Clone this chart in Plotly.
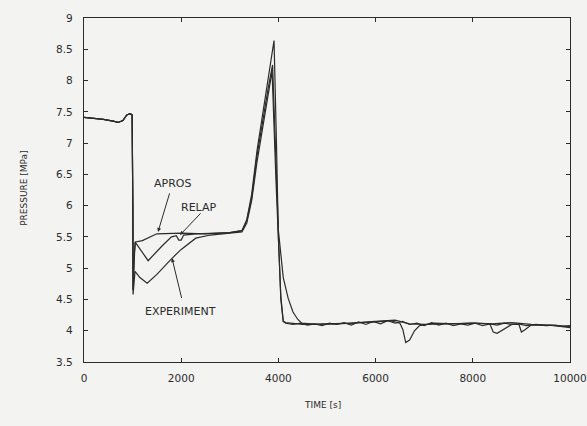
import plotly.graph_objects as go

# Pressure transient: measured data and two code simulations (APROS, RELAP)
# Common pre-transient history (identical for all three records)
t_pre = [0, 200, 400, 600, 700, 800, 880, 950, 990]
p_pre = [7.41, 7.40, 7.38, 7.35, 7.33, 7.36, 7.45, 7.47, 7.45]

t_exp = t_pre + [1005, 1010, 1050, 1150, 1300, 1500, 1800, 2000, 2300, 2600, 3000, 3250,
                 3350, 3450, 3560, 3680, 3790, 3870, 3950, 4000, 4050, 4100, 4150,
                 4300, 4450, 4600, 4750, 4900, 5050, 5200, 5350, 5500, 5650, 5800,
                 5950, 6100, 6250, 6400, 6550, 6700, 6850, 7000, 7150, 7300, 7450,
                 7600, 7750, 7900, 8050, 8200, 8350, 8500, 8650, 8800, 8950, 9100,
                 9300, 9500, 9700, 9850, 10000]
p_exp = p_pre + [6.0, 4.58, 4.95, 4.85, 4.76, 4.90, 5.15, 5.30, 5.48, 5.53, 5.56, 5.58,
                 5.72, 6.08, 6.70, 7.28, 7.78, 8.15, 6.40, 5.40, 4.55, 4.15, 4.12,
                 4.10, 4.12, 4.09, 4.11, 4.08, 4.12, 4.10, 4.13, 4.09, 4.14, 4.10,
                 4.15, 4.11, 4.16, 4.12, 4.15, 4.10, 4.12, 4.08, 4.13, 4.09, 4.12,
                 4.08, 4.11, 4.09, 4.12, 4.08, 4.11, 4.09, 4.12, 4.10, 4.11, 4.08,
                 4.10, 4.08, 4.09, 4.07, 4.08]

t_apros = t_pre + [1005, 1010, 1030, 1060, 1200, 1500, 2000, 2500, 3000, 3250,
                   3350, 3450, 3560, 3680, 3790, 3880, 3950, 4000, 4100, 4200, 4300,
                   4400, 4480, 4800, 5200, 5600, 6000, 6300, 6500, 6560, 6620, 6700,
                   6800, 6900, 7200, 7600, 8000, 8400, 8800, 9200, 9600, 10000]
p_apros = p_pre + [6.0, 4.65, 5.20, 5.42, 5.44, 5.55, 5.56, 5.55, 5.57, 5.60,
                   5.76, 6.12, 6.80, 7.38, 7.88, 8.25, 6.60, 5.60, 4.85, 4.52, 4.30,
                   4.18, 4.12, 4.10, 4.11, 4.12, 4.14, 4.16, 4.12, 4.02, 3.81, 3.85,
                   4.00, 4.08, 4.12, 4.11, 4.12, 4.11, 4.13, 4.10, 4.09, 4.07]

t_relap = t_pre + [1005, 1010, 1050, 1320, 1600, 1800, 1900, 1950, 2000, 2050, 2300,
                   2700, 3000, 3250, 3350, 3450, 3560, 3680, 3790, 3910, 3960, 4000,
                   4050, 4100, 4150, 4500, 5000, 5500, 6000, 6400, 6700, 7000, 7500,
                   8000, 8350, 8420, 8500, 8650, 8800, 8950, 9000, 9080, 9200, 9600,
                   10000]
p_relap = p_pre + [6.0, 4.65, 5.42, 5.12, 5.35, 5.50, 5.52, 5.45, 5.45, 5.53, 5.55,
                   5.56, 5.57, 5.60, 5.78, 6.18, 6.88, 7.48, 8.00, 8.64, 7.00, 5.50,
                   4.50, 4.15, 4.13, 4.10, 4.11, 4.12, 4.15, 4.17, 4.11, 4.10, 4.11,
                   4.12, 4.11, 3.98, 3.96, 4.03, 4.10, 4.10, 3.98, 4.02, 4.09, 4.09,
                   4.05]

x_ticks = [0, 2000, 4000, 6000, 8000, 10000]
y_ticks = [3.5, 4, 4.5, 5, 5.5, 6, 6.5, 7, 7.5, 8, 8.5, 9]
y_tick_text = ["3.5", "4", "4.5", "5", "5.5", "6", "6.5", "7", "7.5", "8", "8.5", "9"]

# Label text, label position, arrow tail and arrow head (data coordinates)
labels = ["APROS", "RELAP", "EXPERIMENT"]
label_t = [1811, 2366, 1990]
label_p = [6.36, 5.97, 4.30]
tail_t = [1770, 2428, 2016]
tail_p = [6.22, 5.90, 4.50]
head_t = [1523, 1975, 1811]
head_p = [5.58, 5.53, 5.16]

ink = "#2b2b2b"
bg = "#f3f3f1"
font_family = "DejaVu Sans, Liberation Sans, Arial, sans-serif"

fig = go.Figure()
for t, p, name in [(t_exp, p_exp, "EXPERIMENT"), (t_apros, p_apros, "APROS"),
                   (t_relap, p_relap, "RELAP")]:
    fig.add_trace(go.Scatter(x=t, y=p, mode="lines", name=name,
                             line=dict(color=ink, width=1.2), showlegend=False))

annotations = []
for txt, lx, ly, tx, ty, hx, hy in zip(labels, label_t, label_p, tail_t, tail_p,
                                        head_t, head_p):
    annotations.append(dict(x=lx, y=ly, xref="x", yref="y", text=txt,
                            showarrow=False, font=dict(size=11, color=ink,
                                                       family=font_family)))
    annotations.append(dict(x=hx, y=hy, ax=tx, ay=ty, xref="x", yref="y",
                            axref="x", ayref="y", text="", showarrow=True,
                            arrowhead=2, arrowsize=0.8, arrowwidth=1,
                            arrowcolor=ink, standoff=0, startstandoff=0))

annotations.append(dict(x=-0.138, y=0.506, xref="paper", yref="paper",
                        text="PRESSURE [MPa]", textangle=-90, showarrow=False,
                        font=dict(size=9, color=ink, family=font_family)))
annotations.append(dict(x=0.49, y=-0.145, xref="paper", yref="paper",
                        text="TIME [s]", showarrow=False,
                        font=dict(size=9, color=ink, family=font_family)))

axis_common = dict(showgrid=False, zeroline=False, showline=True, linecolor=ink,
                   linewidth=1.2, mirror="ticks", ticks="inside", ticklen=4,
                   tickwidth=1, tickcolor=ink, automargin=False,
                   tickfont=dict(size=10.5, color=ink, family=font_family))

fig.update_layout(
    width=587, height=426,
    margin=dict(l=84, r=17, t=18, b=64),
    paper_bgcolor=bg, plot_bgcolor=bg,
    xaxis=dict(range=[0, 10000], tickvals=x_ticks,
               ticktext=[str(v) for v in x_ticks], **axis_common),
    yaxis=dict(range=[3.5, 9], tickvals=y_ticks, ticktext=y_tick_text,
               **axis_common),
    annotations=annotations,
)
fig.update_xaxes(ticklabelstandoff=6)
fig.update_yaxes(ticklabelstandoff=8)

fig.write_html("out.html")
